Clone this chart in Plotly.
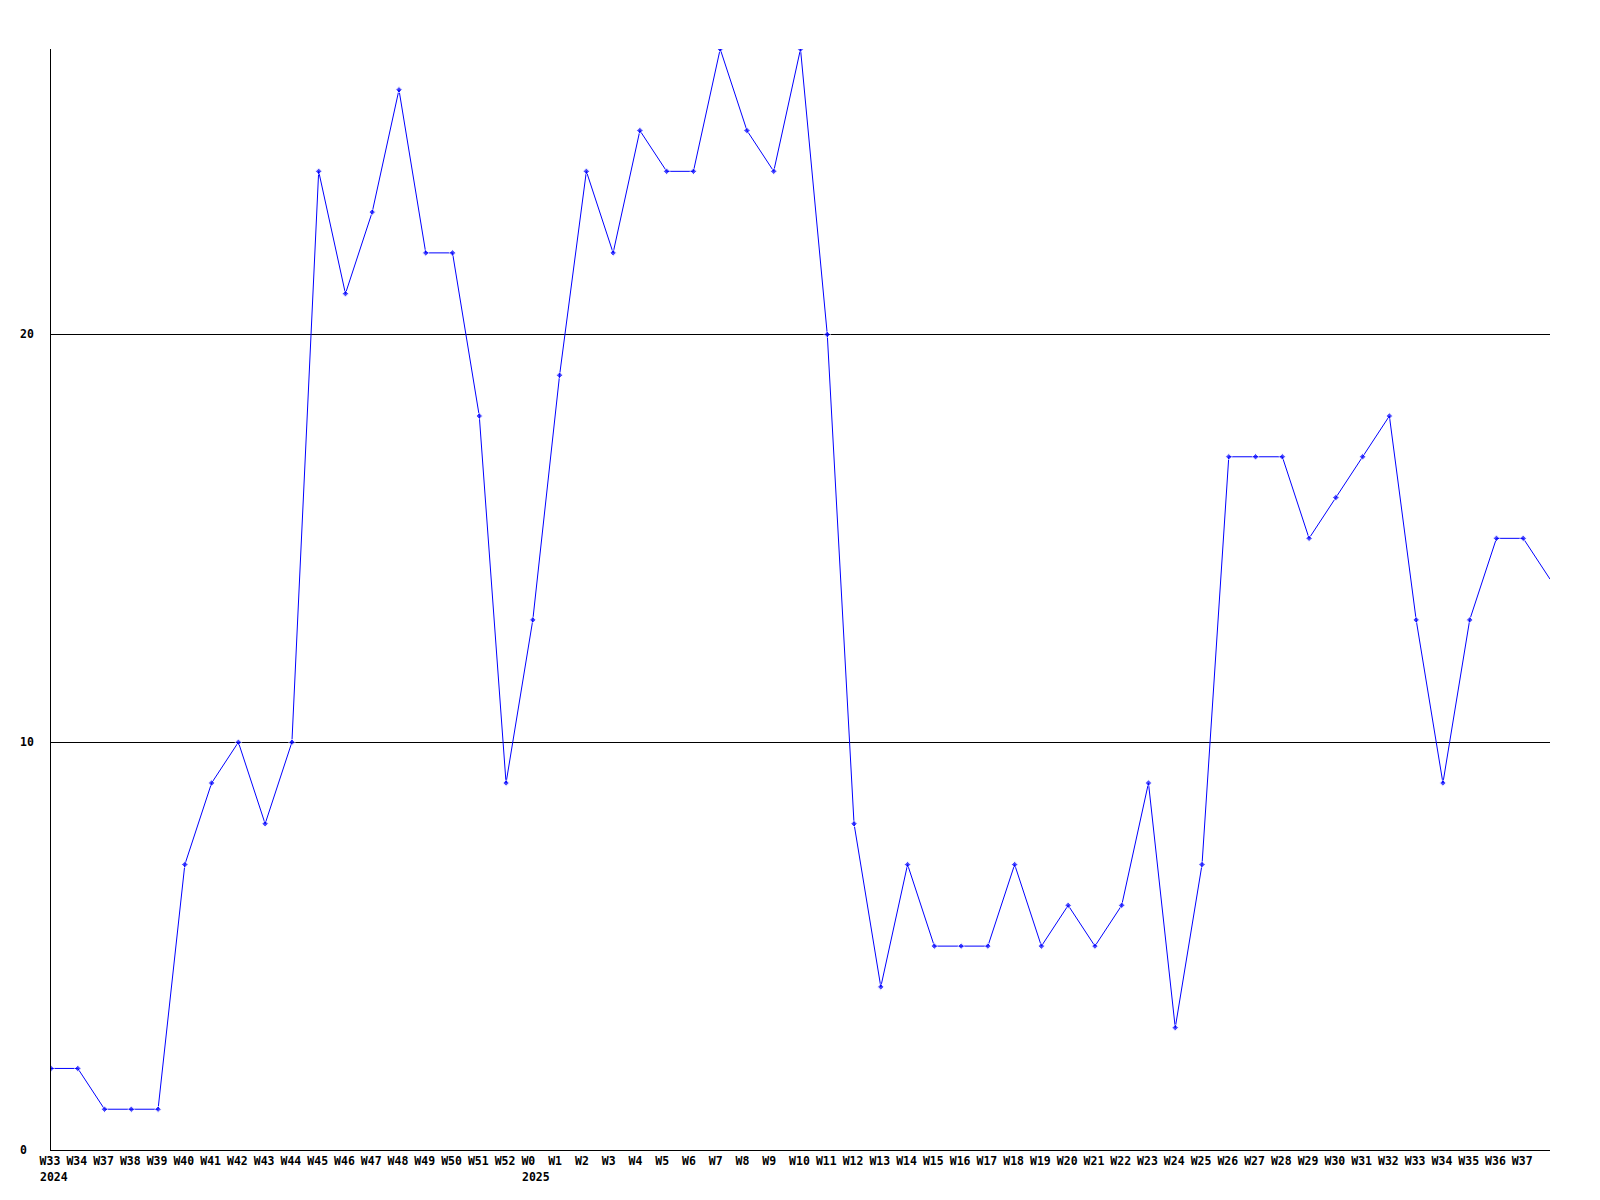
import plotly.graph_objects as go

# weekly counts, aug 2024 -> sep 2025
weeks = ["W33", "W34", "W37", "W38", "W39", "W40", "W41", "W42", "W43", "W44",
         "W45", "W46", "W47", "W48", "W49", "W50", "W51", "W52",
         "W0", "W1", "W2", "W3", "W4", "W5", "W6", "W7", "W8", "W9", "W10",
         "W11", "W12", "W13", "W14", "W15", "W16", "W17", "W18", "W19", "W20",
         "W21", "W22", "W23", "W24", "W25", "W26", "W27", "W28", "W29", "W30",
         "W31", "W32", "W33", "W34", "W35", "W36", "W37", ""]
counts = [2, 2, 1, 1, 1, 7, 9, 10, 8, 10,
          24, 21, 23, 26, 22, 22, 18, 9,
          13, 19, 24, 22, 25, 24, 24, 27, 25, 24, 27,
          20, 8, 4, 7, 5, 5, 5, 7, 5, 6,
          5, 6, 9, 3, 7, 17, 17, 17, 15, 16,
          17, 18, 13, 9, 13, 15, 15, 14]
year_labels = {0: "2024", 18: "2025"}
y_ticks = [0, 10, 20]

x = list(range(len(weeks)))
font = dict(family="DejaVu Sans Mono", size=11.5, color="black", weight="bold")

fig = go.Figure()
fig.add_trace(go.Scatter(
    x=x, y=counts, mode="lines+markers",
    line=dict(color="#0000ff", width=1),
    marker=dict(symbol="diamond", color="#0000ff",
                size=[5] * (len(x) - 1) + [0]),
    showlegend=False,
))

annotations = []
for i, yr in year_labels.items():
    annotations.append(dict(x=i, xref="x", y=0, yref="paper", yshift=-27, xshift=-13,
                            text=yr, showarrow=False, xanchor="left", yanchor="middle", font=font))
for v in y_ticks:
    annotations.append(dict(x=0, xref="paper", xshift=-33, y=v, yref="y",
                            text=str(v), showarrow=False, xanchor="left", yanchor="middle", font=font))

# page body has an 8px margin, so shift the plot area back by that much
fig.update_layout(
    width=1600, height=1200,
    margin=dict(l=43, r=58, t=41, b=58),
    plot_bgcolor="white", paper_bgcolor="white",
    annotations=annotations,
    xaxis=dict(
        range=[0, len(x) - 1], tickmode="array", tickvals=x,
        ticktext=[w.ljust(3, "\u00a0") for w in weeks],
        tickfont=font, ticks="", showgrid=False, zeroline=False,
        showline=True, linecolor="black", linewidth=1, ticklabelshift=-1,
    ),
    yaxis=dict(
        range=[0, 27], tickmode="array", tickvals=y_ticks, showticklabels=False,
        showgrid=True, gridcolor="black", gridwidth=1, zeroline=False,
        showline=True, linecolor="black", linewidth=1, ticks="",
    ),
)

fig.write_html("out.html")
